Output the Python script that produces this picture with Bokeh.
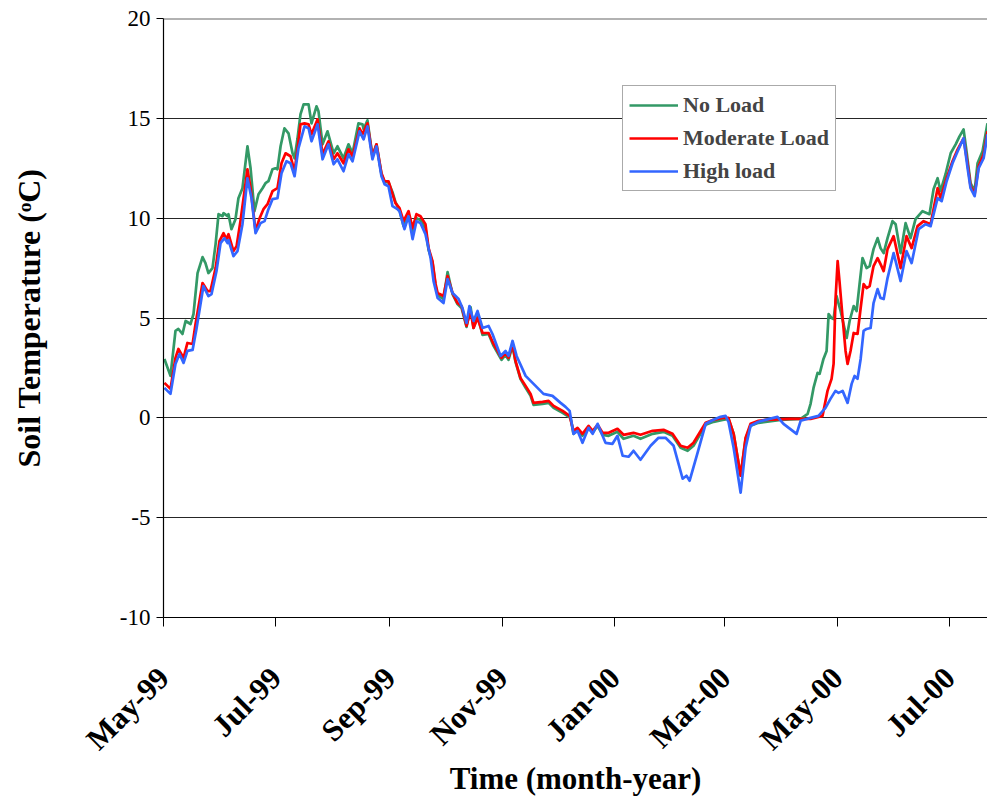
import math
import pandas as pd
from bokeh.plotting import figure
from bokeh.models import Range1d, FixedTicker, DatetimeTickFormatter, Legend, LegendItem, ColumnDataSource, Span
from bokeh.embed import file_html
from bokeh.resources import INLINE

START = "1999-05-01"
END_DAY = 447.6
x_tick_dates = ["1999-05-01", "1999-07-01", "1999-09-01", "1999-11-01",
                "2000-01-01", "2000-03-01", "2000-05-01", "2000-07-01"]
y_ticks = [-10, -5, 0, 5, 10, 15, 20]
y_tick_labels = ["-10", "-5", "0", "5", "10", "15", "20"]
series_names = ["No Load", "Moderate Load", "High load"]
x_title = "Time (month-year)"
y_title = "Soil Temperature (\u1d52C)"

# days since 1999-05-01 and soil temperature (deg C)
no_load_day = [0.5, 3.8, 6.5, 8.1, 10.3, 12.0, 14.7, 16.3, 18.5, 21.2,
               22.8, 24.4, 26.6, 28.3, 29.9, 32.1, 32.6, 34.8, 35.3, 36.9,
               39.1, 40.7, 42.9, 45.6, 47.3, 49.4, 51.6, 53.8, 55.4, 57.0,
               59.2, 60.8, 61.9, 63.6, 65.7, 67.9, 70.1, 71.2, 72.8, 74.4,
               76.1, 78.8, 80.4, 83.1, 84.2, 86.4, 89.1, 92.4, 94.5, 97.8,
               100.5, 102.7, 105.9, 108.1, 108.7, 110.8, 113.5, 115.7, 118.4, 120.1,
               122.2, 124.4, 126.0, 128.2, 130.4, 133.1, 135.3, 137.4, 139.6, 142.3,
               144.0, 146.1, 147.8, 148.9, 152.1, 154.3, 157.0, 159.7, 161.9, 164.6,
               166.8, 168.4, 170.6, 173.3, 176.6, 179.3, 183.6, 185.8, 187.4, 189.6,
               191.2, 193.9, 196.7, 199.4, 201.0, 205.9, 209.2, 211.9, 216.8, 221.1,
               222.7, 224.9, 227.6, 230.9, 233.1, 235.8, 238.5, 241.8, 246.6, 249.9,
               255.3, 259.1, 265.7, 271.6, 276.5, 280.9, 284.7, 287.9, 294.5, 298.8,
               303.7, 306.9, 309.7, 313.5, 316.2, 318.9, 323.2, 327.0, 335.2, 346.1,
               349.9, 351.5, 353.1, 355.3, 356.4, 358.5, 360.2, 361.3, 362.9, 364.0,
               365.6, 367.8, 371.1, 372.7, 374.9, 376.5, 378.1, 379.7, 381.9, 383.6,
               385.7, 387.9, 389.5, 391.2, 393.3, 396.0, 397.7, 400.4, 403.1, 405.8,
               408.5, 412.3, 416.1, 418.3, 420.5, 422.1, 424.8, 427.6, 430.3, 432.4,
               434.6, 436.2, 438.4, 440.6, 442.2, 444.9, 447.6]
no_load_temp = [2.95, 2.1, 4.35, 4.45, 4.2, 4.85, 4.7, 5.2, 7.25, 8.05,
                7.75, 7.25, 7.5, 8.7, 10.2, 10.1, 10.25, 10.1, 10.2, 9.45,
                9.95, 11.0, 11.5, 13.6, 12.5, 10.35, 11.2, 11.5, 11.75, 11.85,
                12.45, 12.5, 12.45, 13.6, 14.5, 14.25, 13.25, 13.0, 14.0, 15.2,
                15.7, 15.7, 14.75, 15.6, 15.35, 13.7, 14.35, 13.25, 13.6, 13.0,
                13.7, 13.25, 14.75, 14.7, 14.45, 14.9, 13.1, 13.7, 12.2, 11.8,
                11.8, 11.3, 10.8, 10.4, 9.6, 10.2, 9.3, 10.0, 9.9, 9.5,
                8.4, 7.8, 6.6, 6.15, 5.95, 7.3, 6.2, 5.7, 5.5, 4.55,
                5.55, 4.5, 5.1, 4.15, 4.2, 3.6, 2.9, 3.15, 2.9, 3.6,
                2.8, 1.95, 1.5, 1.1, 0.65, 0.7, 0.75, 0.5, 0.25, 0.0,
                -0.8, -0.6, -0.9, -0.5, -0.75, -0.4, -0.85, -0.9, -0.7, -1.05,
                -0.9, -1.05, -0.8, -0.7, -0.9, -1.5, -1.65, -1.4, -0.35, -0.2,
                -0.1, -0.05, -0.8, -2.9, -1.05, -0.4, -0.25, -0.2, -0.1, -0.05,
                0.2, 0.7, 1.5, 2.25, 2.2, 2.95, 3.35, 5.2, 5.0, 4.95,
                6.1, 5.35, 4.0, 4.85, 5.6, 5.35, 6.7, 8.0, 7.5, 7.6,
                8.45, 9.0, 8.5, 8.25, 9.0, 9.85, 9.7, 8.25, 9.75, 9.0,
                9.95, 10.35, 10.2, 11.45, 12.0, 11.35, 12.2, 13.25, 13.7, 14.1,
                14.45, 13.35, 11.75, 11.35, 12.75, 13.35, 14.75]

moderate_day = [0.5, 3.8, 6.5, 8.1, 10.9, 13.0, 15.8, 17.4, 21.2, 23.9,
                25.5, 28.3, 30.4, 32.6, 34.2, 35.3, 38.0, 39.7, 41.8, 45.6,
                47.3, 50.0, 52.2, 54.3, 56.5, 59.2, 61.9, 64.1, 66.3, 69.0,
                71.2, 72.8, 74.4, 76.6, 78.8, 80.4, 83.7, 86.4, 89.6, 92.4,
                94.5, 97.8, 100.5, 102.7, 106.5, 108.1, 110.8, 113.5, 115.7, 118.4,
                120.1, 122.2, 124.4, 126.0, 128.2, 130.4, 133.1, 135.3, 137.4, 139.6,
                142.3, 144.0, 146.1, 147.8, 148.9, 152.1, 154.3, 157.0, 159.7, 161.9,
                164.6, 166.8, 168.4, 170.6, 173.3, 176.6, 179.3, 183.6, 185.8, 187.4,
                189.6, 191.2, 193.9, 196.7, 199.4, 201.0, 205.9, 209.2, 211.9, 216.8,
                220.6, 222.7, 224.9, 227.6, 230.9, 233.1, 235.8, 238.5, 241.8, 246.6,
                249.9, 255.3, 259.1, 265.7, 271.6, 276.5, 280.9, 284.7, 287.9, 294.5,
                298.8, 303.7, 306.9, 309.7, 313.5, 316.2, 318.9, 323.2, 327.0, 340.6,
                351.5, 358.0, 360.7, 362.9, 364.0, 365.0, 366.2, 367.2, 368.9, 370.5,
                371.6, 373.2, 374.9, 377.0, 378.7, 380.3, 381.9, 383.6, 385.7, 387.9,
                389.5, 391.2, 393.3, 396.6, 400.4, 403.6, 406.4, 409.6, 412.9, 416.7,
                420.5, 422.1, 425.4, 428.6, 431.4, 434.6, 436.8, 438.4, 440.6, 442.8,
                445.5, 447.6]
moderate_temp = [1.75, 1.45, 3.0, 3.45, 3.0, 3.75, 3.7, 4.7, 6.75, 6.35,
                 6.35, 7.5, 8.85, 9.25, 8.95, 9.2, 8.35, 8.6, 9.85, 12.45,
                 11.5, 9.35, 10.0, 10.45, 10.7, 11.35, 11.5, 12.75, 13.25, 13.1,
                 12.35, 13.45, 14.7, 14.75, 14.7, 14.2, 14.95, 13.2, 13.85, 12.95,
                 13.25, 12.75, 13.45, 13.1, 14.5, 14.2, 14.75, 13.1, 13.7, 12.25,
                 11.85, 11.85, 11.2, 10.75, 10.5, 9.85, 10.35, 9.5, 10.2, 10.1,
                 9.7, 8.5, 7.85, 6.7, 6.25, 6.1, 7.1, 6.25, 5.75, 5.6,
                 4.6, 5.35, 4.5, 5.0, 4.25, 4.25, 3.7, 3.0, 3.25, 3.0,
                 3.7, 2.85, 2.0, 1.6, 1.2, 0.75, 0.8, 0.85, 0.6, 0.35,
                 0.1, -0.65, -0.5, -0.8, -0.4, -0.65, -0.35, -0.75, -0.75, -0.55,
                 -0.85, -0.75, -0.85, -0.65, -0.6, -0.8, -1.4, -1.5, -1.25, -0.25,
                 -0.1, 0.0, 0.0, -0.8, -2.9, -1.0, -0.3, -0.15, -0.1, -0.05,
                 -0.05, 0.1, 1.35, 1.95, 2.7, 5.85, 7.85, 6.85, 5.0, 3.35,
                 2.7, 3.35, 4.25, 4.2, 5.5, 6.7, 6.5, 6.6, 7.6, 8.0,
                 7.7, 7.35, 8.45, 9.1, 7.5, 9.1, 8.5, 9.6, 9.85, 9.7,
                 11.5, 11.0, 12.0, 12.85, 13.45, 14.0, 12.7, 11.6, 11.2, 12.6,
                 13.2, 14.35]

high_day = [0.5, 3.8, 6.5, 8.7, 10.9, 13.0, 15.8, 17.9, 21.7, 24.4,
            26.1, 28.8, 31.0, 33.1, 34.8, 35.3, 38.0, 40.2, 42.9, 45.6,
            47.8, 50.0, 52.7, 54.9, 57.0, 59.2, 61.9, 64.1, 66.8, 69.0,
            71.2, 73.3, 76.6, 78.8, 80.4, 83.7, 86.4, 89.6, 92.4, 94.5,
            97.8, 100.5, 102.7, 106.5, 108.7, 110.8, 113.5, 115.7, 118.4, 120.1,
            122.2, 124.4, 127.1, 128.2, 130.9, 133.1, 135.3, 137.4, 139.6, 142.3,
            145.1, 146.7, 148.9, 152.1, 154.3, 157.0, 160.3, 162.4, 164.6, 166.2,
            168.4, 170.6, 173.3, 176.6, 178.7, 183.1, 185.8, 187.4, 189.6, 191.8,
            196.7, 202.1, 206.4, 211.3, 215.7, 218.4, 220.6, 222.7, 224.9, 227.6,
            230.9, 233.1, 235.8, 240.1, 243.9, 246.6, 249.4, 252.6, 255.3, 259.1,
            264.6, 268.9, 272.7, 277.1, 282.0, 284.1, 285.8, 290.1, 294.5, 298.8,
            302.6, 305.3, 306.9, 309.7, 313.5, 316.2, 318.9, 323.2, 327.0, 333.5,
            336.8, 343.9, 346.1, 351.5, 355.8, 359.6, 362.3, 365.0, 366.7, 368.9,
            371.6, 373.8, 375.4, 377.0, 378.7, 380.3, 381.9, 384.1, 385.7, 387.9,
            389.5, 391.2, 393.3, 396.6, 400.4, 403.6, 406.4, 410.2, 414.0, 416.7,
            420.5, 422.7, 425.4, 428.6, 431.4, 434.6, 436.8, 438.4, 440.6, 442.8,
            445.5, 447.6]
high_temp = [1.5, 1.2, 2.7, 3.2, 2.75, 3.35, 3.4, 4.45, 6.6, 6.1,
             6.2, 7.35, 8.75, 9.0, 8.75, 8.9, 8.1, 8.35, 9.7, 12.0,
             11.0, 9.25, 9.75, 9.85, 10.45, 10.95, 11.0, 12.25, 12.85, 12.75,
             12.1, 13.5, 14.6, 14.5, 13.85, 14.7, 12.95, 13.7, 12.7, 12.95,
             12.35, 13.2, 12.85, 14.35, 13.95, 14.6, 12.95, 13.6, 12.1, 11.7,
             11.6, 10.6, 10.45, 10.35, 9.45, 10.1, 8.95, 9.85, 9.75, 9.2,
             8.0, 6.85, 6.0, 5.75, 6.95, 6.25, 5.95, 5.5, 4.75, 5.6,
             4.85, 5.35, 4.5, 4.6, 4.2, 3.1, 3.35, 3.1, 3.85, 3.1,
             2.1, 1.6, 1.2, 1.1, 0.75, 0.55, 0.35, -0.8, -0.65, -1.25,
             -0.5, -0.8, -0.3, -1.25, -1.3, -0.9, -1.9, -1.95, -1.65, -2.1,
             -1.4, -1.0, -1.0, -1.4, -3.05, -2.9, -3.15, -1.75, -0.3, -0.1,
             0.05, 0.1, -0.2, -1.5, -3.75, -1.5, -0.4, -0.2, -0.1, 0.05,
             -0.3, -0.8, -0.15, 0.0, 0.1, 0.5, 0.95, 1.35, 1.25, 1.35,
             0.75, 1.7, 2.1, 1.95, 2.95, 4.35, 4.45, 4.5, 5.75, 6.45,
             6.0, 5.95, 7.0, 8.25, 6.85, 8.35, 7.75, 9.45, 9.7, 9.6,
             11.0, 10.85, 11.85, 12.75, 13.35, 14.0, 12.5, 11.5, 11.1, 12.5,
             13.0, 14.2]

colors = ["#339966", "#FF0000", "#3366FF"]
FONT = "Liberation Serif"


def to_dt(days):
    return pd.Timestamp(START) + pd.to_timedelta(days, unit="D")


p = figure(width=987, height=800, x_axis_type="datetime",
           output_backend="svg", toolbar_location=None,
           x_range=Range1d(to_dt(0), to_dt(END_DAY)),
           y_range=Range1d(-10, 20),
           min_border_left=163, min_border_right=0,
           min_border_top=18, min_border_bottom=183)
p.outline_line_color = None
p.background_fill_color = "white"

renderers = []
for days, temps, col in [(no_load_day, no_load_temp, colors[0]),
                         (moderate_day, moderate_temp, colors[1]),
                         (high_day, high_temp, colors[2])]:
    src = ColumnDataSource(dict(t=list(to_dt(pd.Series(days))), v=temps))
    r = p.line("t", "v", source=src, line_color=col, line_width=2.7,
               line_join="round")
    renderers.append(r)

# top boundary line at the maximum of the y range
p.add_layout(Span(location=y_ticks[-1], dimension="width",
                  line_color="#666666", line_width=2))

# axes
tick_ms = [pd.Timestamp(d).timestamp() * 1000 for d in x_tick_dates]
p.xaxis.ticker = FixedTicker(ticks=tick_ms)
p.xaxis.formatter = DatetimeTickFormatter(months="%b-%y", days="%b-%y",
                                          years="%b-%y", hours="%b-%y")
p.xaxis.major_label_orientation = math.pi / 4
p.xaxis.major_label_text_font = FONT
p.xaxis.major_label_text_font_style = "bold"
p.xaxis.major_label_text_font_size = "31px"
p.xaxis.major_label_standoff = 46
p.xaxis.major_tick_out = 9
p.xaxis.major_tick_in = 0
p.xaxis.minor_tick_line_color = None
p.xaxis.axis_label = x_title
p.xaxis.axis_label_text_font = FONT
p.xaxis.axis_label_text_font_style = "bold"
p.xaxis.axis_label_text_font_size = "31px"
p.xaxis.axis_label_standoff = -11

p.yaxis.ticker = FixedTicker(ticks=y_ticks)
p.yaxis.major_label_overrides = {t: s for t, s in zip(y_ticks, y_tick_labels)}
p.yaxis.major_label_text_font = FONT
p.yaxis.major_label_text_font_size = "23px"
p.yaxis.major_label_standoff = 6
p.yaxis.major_tick_out = 7
p.yaxis.major_tick_in = 0
p.yaxis.minor_tick_line_color = None
p.yaxis.axis_label = y_title
p.yaxis.axis_label_text_font = FONT
p.yaxis.axis_label_text_font_style = "bold"
p.yaxis.axis_label_text_font_size = "32px"
p.yaxis.axis_label_standoff = 70

for ax in [p.xaxis[0], p.yaxis[0]]:
    ax.axis_line_color = "black"
    ax.axis_line_width = 1.2
    ax.major_tick_line_color = "black"
    ax.major_label_text_color = "black"
    ax.axis_label_text_color = "black"

p.xgrid.visible = False
p.ygrid.grid_line_color = "black"
p.ygrid.grid_line_width = 1
p.ygrid.grid_line_alpha = 0.85

legend = Legend(items=[LegendItem(label=n, renderers=[r])
                       for n, r in zip(series_names, renderers)],
                location=(459, 426))
legend.label_text_font = FONT
legend.label_text_font_style = "bold"
legend.label_text_font_size = "22px"
legend.glyph_width = 49
legend.glyph_height = 24
legend.label_height = 24
legend.spacing = 7
legend.padding = 6
legend.margin = 0
legend.label_standoff = 5
legend.border_line_color = "#555555"
legend.border_line_width = 1.5
legend.background_fill_color = "white"
legend.background_fill_alpha = 1
p.add_layout(legend)

open("out.html", "w").write(file_html(p, INLINE))
